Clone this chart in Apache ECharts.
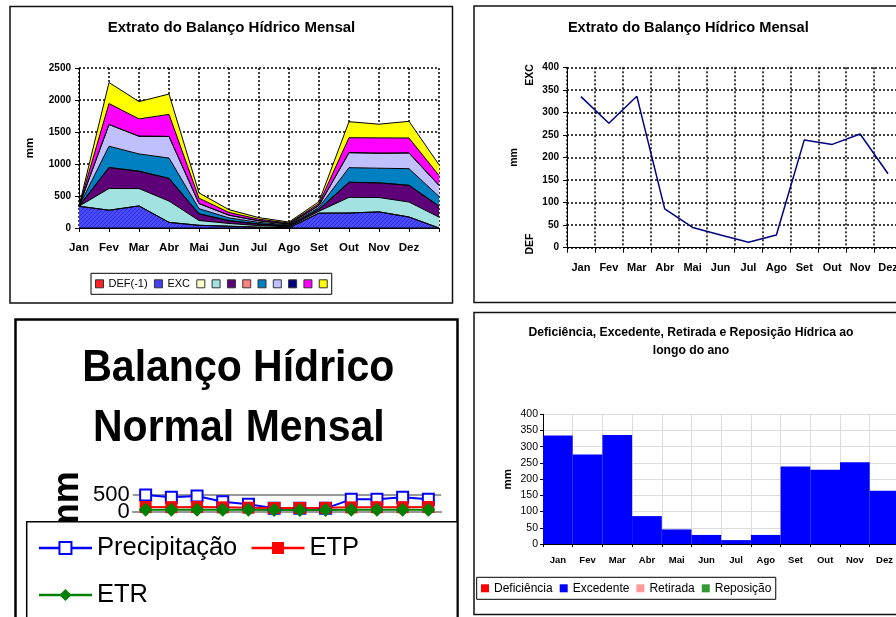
<!DOCTYPE html>
<html>
<head>
<meta charset="utf-8">
<script src="https://cdn.jsdelivr.net/npm/echarts@6/dist/echarts.min.js"></script>
<style>
  html, body { margin: 0; padding: 0; background: #fff; overflow: hidden; }
  #c { width: 896px; height: 617px; }
</style>
</head>
<body>
<div id="c"></div>
<script>
const FONT = '"Liberation Sans", Arial, sans-serif';

// ---- Extrato (stacked areas): 13 points, the last one closes the cycle ----
const monthsCycle = ['Jan', 'Fev', 'Mar', 'Abr', 'Mai', 'Jun', 'Jul', 'Ago', 'Set', 'Out', 'Nov', 'Dez', ''];
const defCycle   = [0, 0, 0, 0, 0, 0, 0, 0, 0, 0, 0, 0, 0];
const excCycle   = [340, 278, 345, 88, 42, 28, 12, 3, 232, 234, 252, 172, 0];
const layer3     = [0, 0, 0, 0, 0, 0, 0, 0, 0, 0, 0, 0, 0];
const layer4     = [0, 339, 271, 333, 75, 43, 25, 15, 30, 245, 224, 234, 170];
const layer5     = [0, 328, 271, 354, 105, 43, 25, 15, 30, 235, 229, 261, 172];
const layer6     = [0, 0, 0, 0, 0, 0, 0, 0, 0, 0, 0, 0, 0];
const layer7     = [0, 333, 270, 318, 80, 43, 25, 15, 30, 229, 229, 260, 151];
const layer8     = [0, 339, 277, 338, 80, 43, 25, 15, 30, 234, 235, 245, 172];
const layer9     = [0, 0, 0, 0, 0, 0, 0, 0, 0, 0, 0, 0, 0];
const layer10    = [0, 328, 270, 344, 84, 43, 25, 15, 30, 234, 239, 234, 156];
const layer11    = [0, 328, 271, 318, 83, 43, 25, 15, 30, 250, 214, 261, 167];

// ---- Monthly series ----
const months     = ['Jan', 'Fev', 'Mar', 'Abr', 'Mai', 'Jun', 'Jul', 'Ago', 'Set', 'Out', 'Nov', 'Dez'];
const excedente  = [335, 276, 336, 86, 45, 28, 12, 28, 239, 229, 252, 164];
const deficiencia = [0, 0, 0, 0, 0, 0, 0, 0, 0, 0, 0, 0];
const retirada   = [0, 0, 0, 0, 0, 0, 0, 0, 0, 0, 0, 0];
const reposicao  = [0, 0, 0, 0, 0, 0, 0, 0, 0, 0, 0, 0];

const precipitacao = [500, 431, 470, 300, 220, 100, 100, 100, 370, 370, 431, 370];
const etp          = [140, 135, 140, 130, 120, 110, 110, 115, 130, 135, 135, 140];
const etr          = [60, 60, 60, 55, 55, 50, 50, 50, 55, 60, 60, 60];

// tick values
const ticksExtrato = { min: 0, max: 2500, step: 500 };
const ticksExc     = { min: 0, max: 400, step: 50 };
const ticksNormal  = { min: 0, max: 500, step: 500 };

// ---- helpers ----
const dotted = { color: '#000', width: 1.5, type: [2, 2] };
const blackAxis = { show: true, lineStyle: { color: '#000', width: 1 } };
const plain = v => String(v);

// fine diagonal hatch used for the EXC band
function hatch(base, ink) {
  const c = document.createElement('canvas');
  c.width = 4; c.height = 4;
  const g = c.getContext('2d');
  g.fillStyle = base; g.fillRect(0, 0, 4, 4);
  g.fillStyle = ink;
  for (let i = 0; i < 4; i++) g.fillRect(i, 3 - i, 1, 1);
  return { image: c, repeat: 'repeat' };
}

function areaLayer(name, data, fill, pattern) {
  return {
    name, type: 'line', xAxisIndex: 0, yAxisIndex: 0, stack: 'extrato',
    data, symbol: 'none', smooth: false,
    lineStyle: { color: '#000', width: 1 },
    itemStyle: { color: fill },
    areaStyle: { color: pattern || fill, opacity: 1 },
    emphasis: { disabled: true }, silent: true
  };
}

const layers = [
  ['DEF(-1)', defCycle, '#FF2020'],
  ['EXC', excCycle, '#4040F8', hatch('#4a4aff', '#2f2fd8')],
  ['Série 3', layer3, '#FFFFC8'],
  ['Série 4', layer4, '#A2E2E0'],
  ['Série 5', layer5, '#5E0078'],
  ['Série 6', layer6, '#FF8080'],
  ['Série 7', layer7, '#0080C0'],
  ['Série 8', layer8, '#C0C0FF'],
  ['Série 9', layer9, '#000080'],
  ['Série 10', layer10, '#FF00FF'],
  ['Série 11', layer11, '#FFFF00']
];

// the short Normal Mensal axis: its two tick labels overlap, so each gets its own axis copy
const normalAxis = (labelFor, extra) => Object.assign({
  gridIndex: 2, type: 'value', position: 'left',
  min: ticksNormal.min, max: ticksNormal.max, interval: ticksNormal.step,
  axisLine: { show: false }, axisTick: { show: false },
  axisLabel: {
    fontSize: 22, color: '#000', margin: 3, hideOverlap: false,
    formatter: v => (v === labelFor ? String(v) : '')
  },
  splitLine: { show: false }
}, extra);

const option = {
  backgroundColor: '#fff',
  animation: false,
  textStyle: { fontFamily: FONT, color: '#000' },
  grid: [
    { left: 79, top: 68, width: 360, height: 160, outerBoundsMode: 'none' },
    { left: 567, top: 67.3, width: 335, height: 180.4, outerBoundsMode: 'none' },
    { left: 132.8, top: 495, width: 308.4, height: 16.7, outerBoundsMode: 'none' },
    { left: 543, top: 414.3, width: 356.4, height: 129.7, outerBoundsMode: 'none' }
  ],
  xAxis: [
    {
      gridIndex: 0, type: 'category', data: monthsCycle, boundaryGap: false,
      axisLine: blackAxis,
      axisTick: { show: true, length: 4, interval: 0, lineStyle: { color: '#000' } },
      axisLabel: { interval: 0, fontSize: 11.5, fontWeight: 'bold', color: '#000', margin: 14 },
      splitLine: { show: true, interval: 0, lineStyle: dotted }
    },
    {
      gridIndex: 1, type: 'category', data: months, boundaryGap: true,
      axisLine: blackAxis,
      axisTick: { show: true, length: 5, interval: 0, lineStyle: { color: '#000' } },
      axisLabel: { interval: 0, fontSize: 11, fontWeight: 'bold', color: '#000', margin: 15 },
      splitLine: { show: true, interval: 0, lineStyle: dotted }
    },
    {
      gridIndex: 2, type: 'category', data: months, boundaryGap: true,
      axisLine: { show: true, lineStyle: { color: '#999', width: 2, type: [4, 3] } },
      axisTick: { show: false }, axisLabel: { show: false },
      splitLine: { show: false }
    },
    {
      gridIndex: 3, type: 'category', data: months, boundaryGap: true,
      axisLine: blackAxis,
      axisTick: { show: true, length: 3, interval: 0, lineStyle: { color: '#000' } },
      axisLabel: { interval: 0, fontSize: 9.5, fontWeight: 'bold', color: '#000', margin: 11 },
      splitLine: { show: true, interval: 0, lineStyle: { color: '#dcdcdc', width: 1 } }
    }
  ],
  yAxis: [
    {
      gridIndex: 0, type: 'value', min: ticksExtrato.min, max: ticksExtrato.max, interval: ticksExtrato.step,
      axisLine: blackAxis,
      axisTick: { show: true, length: 4, lineStyle: { color: '#000' } },
      axisLabel: { fontSize: 10, fontWeight: 'bold', color: '#000', margin: 8, formatter: plain },
      splitLine: { show: true, lineStyle: dotted },
      name: 'mm', nameLocation: 'middle', nameGap: 43,
      nameTextStyle: { fontSize: 11.5, fontWeight: 'bold', color: '#000' }
    },
    {
      gridIndex: 1, type: 'value', min: ticksExc.min, max: ticksExc.max, interval: ticksExc.step,
      axisLine: blackAxis,
      axisTick: { show: true, length: 4, lineStyle: { color: '#000' } },
      axisLabel: { fontSize: 10, fontWeight: 'bold', color: '#000', margin: 8, formatter: plain },
      splitLine: { show: true, lineStyle: dotted },
      name: 'mm', nameLocation: 'middle', nameGap: 47,
      nameTextStyle: { fontSize: 10.5, fontWeight: 'bold', color: '#000' }
    },
    normalAxis(500, {
      splitLine: { show: true, lineStyle: { color: '#999', width: 2 } },
      name: 'mm', nameLocation: 'middle', nameGap: 47,
      nameTextStyle: { fontSize: 36, fontWeight: 'bold', color: '#000' }
    }),
    {
      gridIndex: 3, type: 'value', min: ticksExc.min, max: ticksExc.max, interval: ticksExc.step,
      axisLine: blackAxis,
      axisTick: { show: true, length: 3, lineStyle: { color: '#000' } },
      axisLabel: { fontSize: 10.5, color: '#000', margin: 5, formatter: plain },
      splitLine: { show: true, lineStyle: { color: '#dcdcdc', width: 1 } },
      name: 'mm', nameLocation: 'middle', nameGap: 29,
      nameTextStyle: { fontSize: 11.5, fontWeight: 'bold', color: '#000' }
    },
    normalAxis(0, { offset: 0 })
  ],
  legend: [
    {
      left: 91, top: 273.3, orient: 'horizontal',
      padding: [5, 4, 5, 4], itemGap: 6.3, itemWidth: 8, itemHeight: 8,
      borderColor: '#000', borderWidth: 1, backgroundColor: '#fff',
      selectedMode: false, icon: 'rect',
      textStyle: { fontSize: 11, color: '#000' },
      formatter: n => (n.indexOf('Série') === 0 ? '' : n),
      data: layers.map(l => ({ name: l[0], itemStyle: { color: l[2], borderColor: '#333', borderWidth: 1 } }))
    },
    {
      left: 37.7, top: 531, width: 400, orient: 'horizontal', z: 10,
      padding: 0, itemGap: 13, itemWidth: 53, itemHeight: 15,
      selectedMode: false,
      textStyle: { fontSize: 25.5, lineHeight: 34, color: '#000' },
      data: [
        { name: 'Precipitação', itemStyle: { color: '#0000FF', borderColor: '#0000FF', borderWidth: 2 }, lineStyle: { color: '#0000FF', width: 2.5 } },
        { name: 'ETP', itemStyle: { color: '#FF0000', borderWidth: 0 }, lineStyle: { color: '#FF0000', width: 2.5 } },
        { name: 'ETR', itemStyle: { color: '#008000', borderWidth: 0 }, lineStyle: { color: '#008000', width: 2.5 } }
      ]
    },
    {
      left: 476.7, top: 577.3, orient: 'horizontal',
      padding: [5, 4.3, 5, 4.3], itemGap: 7, itemWidth: 8, itemHeight: 8,
      borderColor: '#000', borderWidth: 1, backgroundColor: '#fff',
      selectedMode: false, icon: 'rect',
      textStyle: { fontSize: 12, color: '#000' },
      data: [
        { name: 'Deficiência', itemStyle: { color: '#FF0000' } },
        { name: 'Excedente', itemStyle: { color: '#0000FF' } },
        { name: 'Retirada', itemStyle: { color: '#FF9999' } },
        { name: 'Reposição', itemStyle: { color: '#339933' } }
      ]
    }
  ],
  series: [
    ...layers.map(l => areaLayer(l[0], l[1], l[2], l[3])),
    {
      name: 'EXC mensal', type: 'line', xAxisIndex: 1, yAxisIndex: 1,
      data: excedente, symbol: 'none',
      lineStyle: { color: '#000080', width: 1.5 }, itemStyle: { color: '#000080' }
    },
    {
      name: 'Precipitação', type: 'line', xAxisIndex: 2, yAxisIndex: 2,
      data: precipitacao, symbol: 'emptyRect', symbolSize: 11,
      lineStyle: { color: '#0000FF', width: 2 },
      itemStyle: { color: '#0000FF', borderColor: '#0000FF', borderWidth: 2 }
    },
    {
      name: 'ETP', type: 'line', xAxisIndex: 2, yAxisIndex: 2,
      data: etp, symbol: 'rect', symbolSize: 12,
      lineStyle: { color: '#FF0000', width: 2 }, itemStyle: { color: '#FF0000' }
    },
    {
      name: 'ETR', type: 'line', xAxisIndex: 2, yAxisIndex: 2,
      data: etr, symbol: 'diamond', symbolSize: 14,
      lineStyle: { color: '#008000', width: 2 }, itemStyle: { color: '#008000' }
    },
    ...[
      ['Deficiência', deficiencia, '#FF0000'],
      ['Excedente', excedente, '#0000FF'],
      ['Retirada', retirada, '#FF9999'],
      ['Reposição', reposicao, '#339933']
    ].map(b => ({
      name: b[0], type: 'bar', xAxisIndex: 3, yAxisIndex: 3, stack: 'agua',
      data: b[1], barCategoryGap: '0%', itemStyle: { color: b[2] }
    }))
  ],
  graphic: [
    // panel frames
    { type: 'rect', shape: { x: 10, y: 6.5, width: 442.5, height: 296.5 }, style: { fill: 'none', stroke: '#111', lineWidth: 1.5 }, silent: true },
    { type: 'rect', shape: { x: 474, y: 6, width: 440, height: 296.5 }, style: { fill: 'none', stroke: '#111', lineWidth: 1.5 }, silent: true },
    { type: 'rect', shape: { x: 15.5, y: 319.5, width: 442, height: 320 }, style: { fill: 'none', stroke: '#000', lineWidth: 2.5 }, silent: true },
    { type: 'rect', shape: { x: 474, y: 312.5, width: 440, height: 302 }, style: { fill: 'none', stroke: '#111', lineWidth: 1.5 }, silent: true },
    // legend frame of the Normal Mensal chart, above the plot
    { type: 'rect', z: 6, shape: { x: 26.7, y: 521.7, width: 430.6, height: 120 }, style: { fill: '#fff', stroke: '#000', lineWidth: 1.5 }, silent: true },
    // titles
    { type: 'text', x: 231.5, y: 27.5, style: { text: 'Extrato do Balanço Hídrico Mensal', font: 'bold 15px ' + FONT, fill: '#000', textAlign: 'center', textVerticalAlign: 'middle' } },
    { type: 'text', x: 688.3, y: 27.5, style: { text: 'Extrato do Balanço Hídrico Mensal', font: 'bold 14.6px ' + FONT, fill: '#000', textAlign: 'center', textVerticalAlign: 'middle' } },
    { type: 'text', x: 238.3, y: 369.2, scaleY: 1.08, style: { text: 'Balanço Hídrico', font: 'bold 41px ' + FONT, fill: '#000', textAlign: 'center', textVerticalAlign: 'middle' } },
    { type: 'text', x: 238.8, y: 429.2, scaleY: 1.08, style: { text: 'Normal Mensal', font: 'bold 41px ' + FONT, fill: '#000', textAlign: 'center', textVerticalAlign: 'middle' } },
    { type: 'text', x: 691, y: 332.7, style: { text: 'Deficiência, Excedente, Retirada e Reposição Hídrica ao', font: 'bold 12.2px ' + FONT, fill: '#000', textAlign: 'center', textVerticalAlign: 'middle' } },
    { type: 'text', x: 691, y: 350.7, style: { text: 'longo do ano', font: 'bold 12.2px ' + FONT, fill: '#000', textAlign: 'center', textVerticalAlign: 'middle' } },
    // EXC / DEF side marks
    { type: 'text', x: 530, y: 75, rotation: Math.PI / 2, style: { text: 'EXC', font: 'bold 10.5px ' + FONT, fill: '#000', textAlign: 'center', textVerticalAlign: 'middle' } },
    { type: 'text', x: 530, y: 244, rotation: Math.PI / 2, style: { text: 'DEF', font: 'bold 10.5px ' + FONT, fill: '#000', textAlign: 'center', textVerticalAlign: 'middle' } }
  ]
};

const chart = echarts.init(document.getElementById('c'), null, { renderer: 'canvas' });
chart.setOption(option);
</script>
</body>
</html>
